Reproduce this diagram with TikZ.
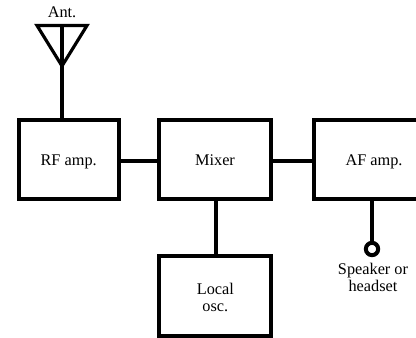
\documentclass[tikz,border=0pt]{standalone}
\usepackage{fontspec}
\setmainfont{Liberation Serif}
\begin{document}
\begin{tikzpicture}[
        block/.style={rectangle, draw, line width=0.12cm, minimum height=2.38cm, inner sep=0pt, align=center, font=\fontsize{13.9}{14.4}\selectfont},
        oneline/.style={text height=10.6pt, text depth=0pt},
        jack/.style={circle, draw, fill=white, line width=0.12cm, minimum size=0.37cm, inner sep=0pt},
        connection/.style={line width=0.12cm},
        aerial/.style={line width=0.095cm, line join=miter},
        label/.style={align=center, font=\fontsize{13.9}{14.4}\selectfont, inner sep=0pt}
    ]
        \useasboundingbox (0,0) rectangle (12.48,10.14);

        % Blocks
        \node[block, oneline, minimum width=3cm] (rf) at (2.06, 5.35) {RF amp.};
        \node[block, oneline, minimum width=3.36cm] (mixer) at (6.45, 5.35) {Mixer};
        \node[block, oneline, minimum width=3.62cm] (af) at (11.22, 5.35) {AF amp.};
        \node[block, minimum width=3.36cm] (osc) at (6.46, 1.26) {\rule{0pt}{11.6pt}Local\\osc.};

        % Antenna
        \coordinate (tip) at (1.86, 8.16);
        \coordinate (antL) at (1.11, 9.375);
        \coordinate (antR) at (2.61, 9.375);
        \coordinate (antT) at (1.86, 9.375);
        \draw[aerial] (antL) -- (antR) -- (tip) -- cycle;
        \node[label, anchor=base] (ant) at (1.86, 9.615) {Ant.};

        % Speaker output
        \node[jack] (jack) at (11.16, 2.67) {};
        \node[label] (spk) at (11.19, 1.83) {Speaker or\\headset};

        % Connections
        \draw[connection] (antT) -- (antT |- rf.north);
        \draw[connection] ([yshift=-0.04cm]rf.east) -- ([yshift=-0.04cm]mixer.west);
        \draw[connection] ([yshift=-0.04cm]mixer.east) -- ([yshift=-0.04cm]af.west);
        \draw[connection] ([xshift=0.03cm]mixer.south) -- ([xshift=0.03cm]mixer.south |- osc.north);
        \draw[connection] (jack.north) -- (jack.north |- af.south);
    \end{tikzpicture}
\end{document}
